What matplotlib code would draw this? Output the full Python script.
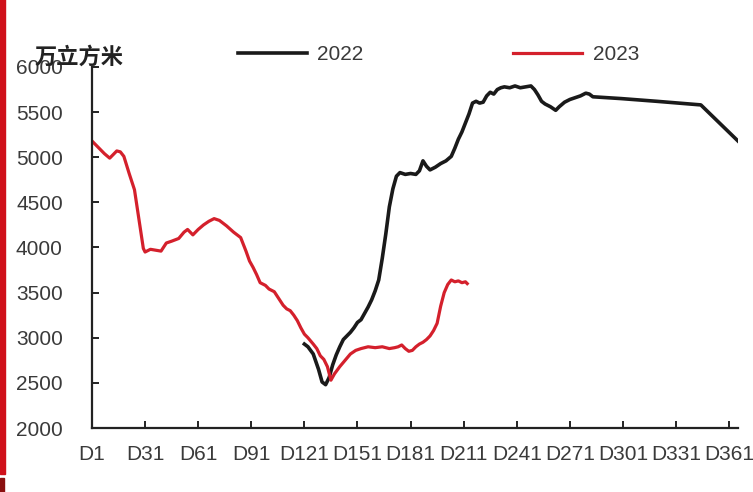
import matplotlib.pyplot as plt
from matplotlib.patches import Rectangle

plt.rcParams['font.family'] = ['Liberation Sans', 'DejaVu Sans']

# 2023 (red)
days_2023 = [1, 4, 8, 11, 13, 15, 17, 19, 22, 25, 28, 30, 31, 34, 37, 40, 43, 46,
             50, 53, 55, 58, 61, 64, 67, 70, 73, 77, 81, 85, 88, 90, 92, 94, 96,
             99, 101, 104, 107, 109, 111, 113, 115, 117, 119, 121, 123, 126, 128,
             130, 132, 134, 136, 138, 141, 144, 147, 150, 153, 157, 161, 165, 169,
             172, 174, 176, 178, 180, 182, 184, 186, 188, 190, 192, 194, 196, 198,
             200, 202, 204, 206, 208, 210, 212, 213]
vals_2023 = [5180, 5120, 5040, 4990, 5030, 5070, 5060, 5010, 4820, 4640, 4250,
             3990, 3950, 3980, 3970, 3960, 4050, 4070, 4100, 4170, 4200, 4140,
             4200, 4250, 4290, 4320, 4300, 4240, 4170, 4110, 3960, 3850, 3780,
             3700, 3610, 3580, 3540, 3510, 3420, 3360, 3320, 3300, 3250, 3190,
             3110, 3040, 3000, 2930, 2880, 2800, 2760, 2680, 2530, 2600, 2680,
             2750, 2820, 2860, 2880, 2900, 2890, 2900, 2880, 2890, 2900, 2920,
             2880, 2850, 2860, 2900, 2930, 2950, 2980, 3020, 3080, 3160, 3350,
             3500, 3590, 3640, 3620, 3630, 3610, 3620, 3600]

# 2022 (black)
days_2022 = [121, 123, 126, 129, 131, 133, 135, 137, 139, 141, 143, 145, 147,
             149, 151, 153, 155, 157, 159, 161, 163, 165, 167, 169, 171, 173,
             175, 178, 181, 184, 186, 188, 190, 192, 195, 198, 201, 204, 206,
             208, 210, 212, 214, 216, 218, 220, 222, 224, 226, 228, 230, 232,
             234, 237, 240, 243, 246, 249, 251, 253, 255, 257, 260, 263, 265,
             268, 271, 274, 277, 280, 282, 284, 300, 320, 345, 366]
vals_2022 = [2930, 2900, 2820, 2650, 2510, 2480, 2560, 2700, 2810, 2900, 2980,
             3020, 3060, 3110, 3170, 3200, 3270, 3340, 3420, 3520, 3640, 3880,
             4150, 4450, 4650, 4790, 4830, 4810, 4820, 4810, 4850, 4960, 4900,
             4860, 4890, 4930, 4960, 5010, 5100, 5200, 5280, 5380, 5480, 5600,
             5620, 5600, 5610, 5680, 5720, 5700, 5750, 5770, 5780, 5770, 5790,
             5770, 5780, 5790, 5750, 5690, 5620, 5590, 5560, 5520, 5560, 5610,
             5640, 5660, 5680, 5710, 5700, 5670, 5650, 5620, 5580, 5180]

x_ticks = list(range(1, 362, 30))
x_labels = ["D%d" % d for d in x_ticks]
y_ticks = list(range(2000, 6001, 500))

fig = plt.figure(figsize=(7.53, 4.92), dpi=100)
ax = fig.add_axes([92 / 753, 1 - 428 / 492, (738 - 92) / 753, (428 - 67) / 492])

l22, = ax.plot(days_2022, vals_2022, color="#1a1a1a", lw=2.6, label="2022")
l23, = ax.plot(days_2023, vals_2023, color="#d4202c", lw=2.3, label="2023")

ax.set_xlim(1, 366)
ax.set_ylim(2000, 6000)
ax.set_xticks(x_ticks)
ax.set_xticklabels(x_labels)
ax.set_yticks(y_ticks)
ax.spines["top"].set_visible(False)
ax.spines["right"].set_visible(False)
for s in ("left", "bottom"):
    ax.spines[s].set_linewidth(1.6)
    ax.spines[s].set_color("#222222")
ax.tick_params(axis="both", direction="in", length=5, width=1.4, color="#222222",
               labelsize=15, labelcolor="#3a3a3a")
ax.tick_params(axis="y", pad=21)
ax.tick_params(axis="x", pad=12)

fig.text(35 / 753, 1 - 57 / 492, "万立方米", family=["Noto Sans CJK SC"],
         fontweight="bold", fontsize=16, va="center", ha="left", color="#222222")

fig.legend(handles=[l22, l23], ncol=2, loc="center left",
           bbox_to_anchor=(238 / 753, 1 - 55 / 492), frameon=False,
           fontsize=15, handlelength=3.3, handletextpad=0.5, columnspacing=7.2,
           borderpad=0, borderaxespad=0, labelcolor="#3a3a3a")

# red strip at the left edge
fig.patches.append(Rectangle((0, 18 / 492), 5 / 753, 1, transform=fig.transFigure,
                             color="#d0101a"))
fig.patches.append(Rectangle((0, 0), 4 / 753, 14 / 492, transform=fig.transFigure,
                             color="#8a1010"))

fig.savefig("out.png", dpi=100)
